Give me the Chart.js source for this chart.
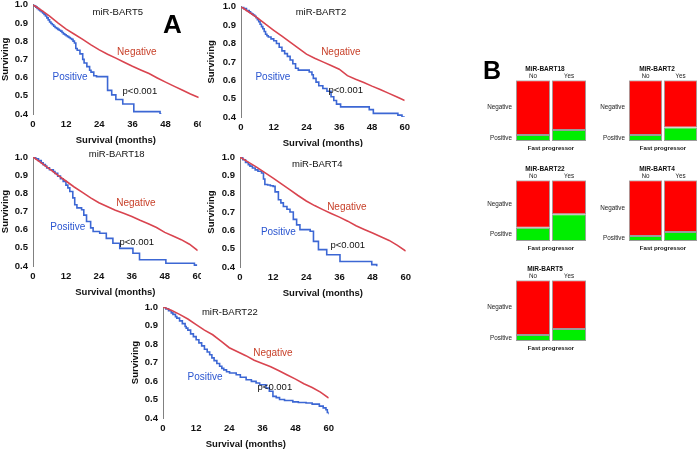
<!DOCTYPE html>
<html><head><meta charset="utf-8">
<script src="https://cdn.jsdelivr.net/npm/chart.js@4.4.1/dist/chart.umd.min.js"></script>
<style>
html,body{margin:0;padding:0;background:#fff;width:699px;height:454px;overflow:hidden;position:relative}
canvas{position:absolute;display:block}
.letter{position:absolute;font-family:'Liberation Sans',Arial,sans-serif;font-weight:bold;line-height:1;color:#000}
</style></head><body>
<canvas id="km1" width="210" height="151" style="left:0px;top:-5px"></canvas>
<canvas id="km2" width="215" height="152" style="left:201px;top:-3px"></canvas>
<canvas id="km3" width="209" height="151" style="left:0px;top:147px"></canvas>
<canvas id="km4" width="216" height="152" style="left:201px;top:147px"></canvas>
<canvas id="km5" width="210" height="153" style="left:130px;top:297px"></canvas>
<canvas id="m1" width="122" height="90" style="left:484px;top:64px"></canvas>
<canvas id="m2" width="120" height="90" style="left:597px;top:64px"></canvas>
<canvas id="m3" width="122" height="90" style="left:484px;top:164px"></canvas>
<canvas id="m4" width="120" height="90" style="left:597px;top:164px"></canvas>
<canvas id="m5" width="122" height="90" style="left:484px;top:264px"></canvas>
<div class="letter" style="left:163px;top:11px;font-size:26px">A</div>
<div class="letter" style="left:483px;top:58px;font-size:25px">B</div>
<script>
// ---------- Kaplan-Meier data ----------
const months = [0,3,6,9,12,15,18,21,24,27,30,33,36,39,42,45,48,51,54,57,60];
const xTicks = [0,12,24,36,48,60];

const bart5Neg  = [1,0.97,0.937,0.90,0.866,0.838,0.81,0.78,0.752,0.728,0.707,0.684,0.662,0.642,0.622,0.598,0.575,0.553,0.532,0.51,0.49];
const bart2Neg  = [1,0.97,0.94,0.905,0.872,0.84,0.808,0.775,0.742,0.72,0.70,0.68,0.66,0.625,0.605,0.588,0.568,0.55,0.53,0.51,0.49];
const bart18Neg = [1,0.968,0.935,0.90,0.868,0.835,0.805,0.775,0.748,0.727,0.707,0.69,0.673,0.652,0.633,0.612,0.585,0.565,0.545,0.52,0.485];
const bart4Neg  = [1,0.972,0.945,0.915,0.885,0.853,0.822,0.79,0.76,0.735,0.713,0.692,0.672,0.65,0.625,0.605,0.585,0.565,0.545,0.518,0.487];
const bart22Neg = [1,0.982,0.96,0.935,0.905,0.875,0.85,0.815,0.78,0.758,0.737,0.712,0.695,0.677,0.655,0.632,0.61,0.585,0.565,0.54,0.508];

const bart5PosT = [0,0.5,1,1.5,2,2.5,3,3.5,4,4.5,5,5.5,6,6.5,7,7.5,8,8.5,9,9.5,10,10.5,11,11.5,12,12.5,13,13.5,14,14.5,15,15.5,16,17,18,18.5,19.5,20.5,21,22,23,27,28.5,30,32.5,36.5,46,46.5];
const bart5PosS = [1,0.993,0.987,0.98,0.973,0.967,0.962,0.955,0.947,0.938,0.928,0.917,0.905,0.897,0.89,0.882,0.875,0.87,0.865,0.86,0.855,0.848,0.84,0.835,0.83,0.825,0.82,0.815,0.81,0.80,0.79,0.76,0.75,0.73,0.70,0.68,0.66,0.64,0.63,0.61,0.605,0.53,0.505,0.48,0.455,0.413,0.40,0.40];
const bart2PosT = [0,1,2,3,3.5,4,4.5,5,5.5,6,6.5,7,7.5,8,8.5,9,9.5,10,11,12,13,14,15,16,17,18,19,20,21,25,26,26.5,27.5,28.5,30,31.5,33,34,35,36.5,42,47,48.5,57.5,59,60];
const bart2PosS = [1,0.99,0.98,0.972,0.965,0.96,0.955,0.948,0.94,0.93,0.918,0.905,0.892,0.88,0.865,0.85,0.842,0.835,0.825,0.815,0.80,0.78,0.76,0.745,0.73,0.71,0.69,0.665,0.655,0.645,0.63,0.61,0.59,0.57,0.555,0.54,0.51,0.49,0.47,0.455,0.455,0.44,0.42,0.41,0.40,0.395];
const bart18PosT = [0,1,2,3,3.7,4.5,5,6,7.4,8,9,10,11,12,12.7,13.4,14.5,15.2,16,17.7,18.5,19.5,21,21.9,24.3,26.7,29.1,31.6,36.4,38.8,48.4,58.8,59.5];
const bart18PosS = [1,0.99,0.98,0.968,0.958,0.95,0.94,0.93,0.92,0.91,0.895,0.88,0.866,0.845,0.83,0.81,0.775,0.737,0.72,0.71,0.68,0.645,0.61,0.59,0.58,0.552,0.525,0.497,0.47,0.434,0.415,0.405,0.39];
const bart4PosT = [0,1,2,3,3.6,4.5,5.5,6.5,7.8,8.5,9,10,11,12,12.7,13.9,14.8,15.7,17,18.1,19.3,20.5,21.7,25.4,26.6,28.4,31.4,36.2,47.7,49.5];
const bart4PosS = [1,0.985,0.97,0.958,0.95,0.94,0.93,0.922,0.913,0.88,0.85,0.847,0.843,0.84,0.81,0.767,0.75,0.73,0.715,0.70,0.66,0.63,0.604,0.595,0.54,0.495,0.467,0.43,0.413,0.404];
const bart22PosT = [0,1,2,3,3.6,4.5,5,6,7,8,8.4,9,10,11,12,13,14,15,16,16.9,17.7,18.5,19.5,20.5,21.3,22,23,24.1,26.5,28,30.1,32,33.7,35,37.3,38.5,39.8,41,42.2,44,47,49,51.8,54,56.6,58,59,59.5,60];
const bart22PosS = [1,0.99,0.98,0.968,0.96,0.948,0.94,0.925,0.91,0.895,0.886,0.875,0.855,0.84,0.823,0.806,0.79,0.772,0.757,0.742,0.725,0.71,0.695,0.68,0.668,0.66,0.65,0.643,0.634,0.62,0.607,0.598,0.589,0.58,0.562,0.545,0.517,0.51,0.50,0.495,0.487,0.484,0.481,0.475,0.464,0.455,0.445,0.43,0.42];

// ---------- Mosaic data (percent of each column) ----------
const mosaicCols = ['No','Yes'];
const bart18Pos = [10,18],  bart18Negm = [90,82];
const bart2Pos  = [10,22.5], bart2Negm = [90,77.5];
const bart22Pos = [22,44],  bart22Negm = [78,56];
const bart4Pos  = [8.5,15], bart4Negm  = [91.5,85];
const bart5Pos  = [10,20],  bart5Negm  = [90,80];

// ---------- styles ----------
const FAM = "'Liberation Sans', Arial, sans-serif";
const RED = '#d9444f', BLUE = '#3c67d4';
const NEG_TXT = '#c8412a', POS_TXT = '#2a55d0';

const whiteBg = {id:'whiteBg', beforeDraw(chart){const c=chart.ctx;c.save();c.fillStyle='#fff';c.fillRect(0,0,chart.width,chart.height);c.restore();}};
function textPlugin(items){
  return {id:'kmText', afterDatasetsDraw(chart){
    const {ctx, scales:{x,y}} = chart;
    ctx.save();
    ctx.textAlign='center'; ctx.textBaseline='middle';
    items.forEach(it=>{ctx.font=it.font; ctx.fillStyle=it.color; ctx.fillText(it.text, x.getPixelForValue(it.x), y.getPixelForValue(it.y));});
    ctx.restore();
  }};
}
function labels(name, t, n, p, pv){
  return [
    {text:name, x:t[0], y:t[1], color:'#111', font:"9.5px "+FAM},
    {text:'Negative', x:n[0], y:n[1], color:NEG_TXT, font:"10px "+FAM},
    {text:'Positive', x:p[0], y:p[1], color:POS_TXT, font:"10px "+FAM},
    {text:'p<0.001', x:pv[0], y:pv[1], color:'#111', font:"9.5px "+FAM}
  ];
}
function km(id, negS, posT, posS, texts, geo){
  const tickFont = {family:FAM, size:9.5, weight:'bold', lineHeight:1};
  const axisFont = {family:FAM, size:9.5, weight:'bold', lineHeight:1.2};
  const plugins = [textPlugin(texts)];
  if (geo.bg) plugins.unshift(whiteBg);
  new Chart(document.getElementById(id), {
    type:'line',
    data:{datasets:[
      {label:'Negative', data:months.map((t,i)=>({x:t,y:negS[i]})), borderColor:RED, borderWidth:1.6, pointRadius:0, tension:0, fill:false},
      {label:'Positive', data:posT.map((t,i)=>({x:t,y:posS[i]})), borderColor:BLUE, borderWidth:1.6, pointRadius:0, stepped:'before', fill:false}
    ]},
    options:{
      responsive:false, animation:false, events:[],
      layout:{padding:{top:geo.padTop, right:0, left:0, bottom:0}},
      plugins:{legend:{display:false}, tooltip:{enabled:false}},
      scales:{
        x:{type:'linear', min:0, max:60,
           afterBuildTicks(s){s.ticks = xTicks.map(v=>({value:v}));},
           ticks:{font:tickFont, color:'#111', padding:6, maxRotation:0, autoSkip:false},
           grid:{display:false, drawTicks:false}, border:{display:false},
           title:{display:true, text:'Survival (months)', font:axisFont, color:'#111', padding:{top:0,bottom:0}},
           afterFit(s){s.height=32;}},
        y:{type:'linear', min:0.4, max:1.0,
           ticks:{stepSize:0.1, font:tickFont, color:'#111', padding:5, callback:v=>Number(v).toFixed(1)},
           grid:{display:false, drawTicks:false}, border:{display:true, color:'#808080', width:1},
           title:{display:true, text:'Surviving', font:axisFont, color:'#111', padding:{top:geo.yTitlePad, bottom:0}},
           afterFit(s){s.width=geo.yWidth;}}
      }
    },
    plugins
  });
}

km('km1', bart5Neg, bart5PosT, bart5PosS, labels('miR-BART5',[30.7,0.956],[37.6,0.741],[13.4,0.604],[38.7,0.527]), {padTop:0, yWidth:33, yTitlePad:0});
km('km2', bart2Neg, bart2PosT, bart2PosS, labels('miR-BART2',[29.3,0.967],[36.6,0.755],[11.7,0.618],[38.4,0.547]), {padTop:0, yWidth:40, yTitlePad:5, bg:true});
km('km3', bart18Neg, bart18PosT, bart18PosS, labels('miR-BART18',[30.5,1.016],[37.5,0.747],[12.7,0.615],[37.8,0.532]), {padTop:10, yWidth:33, yTitlePad:0});
km('km4', bart4Neg, bart4PosT, bart4PosS, labels('miR-BART4',[28,0.962],[38.7,0.727],[13.9,0.591],[39,0.52]), {padTop:10, yWidth:39, yTitlePad:5, bg:true});
km('km5', bart22Neg, bart22PosT, bart22PosS, labels('miR-BART22',[24.2,0.973],[39.8,0.751],[15.2,0.622],[40.5,0.568]), {padTop:10, yWidth:33, yTitlePad:0});

function mosaic(id, name, pos, neg){
  const f = {family:FAM, size:6.3, lineHeight:1.2};
  const fb = {family:FAM, size:6.1, weight:'bold', lineHeight:1.2};
  new Chart(document.getElementById(id), {
    type:'bar',
    data:{labels:mosaicCols, datasets:[
      {label:'Positive', data:pos, backgroundColor:'#00ee00', borderColor:'#9a9a9a', borderWidth:1, borderSkipped:false, barPercentage:1, categoryPercentage:0.95},
      {label:'Negative', data:neg, backgroundColor:'#ff0000', borderColor:'#9a9a9a', borderWidth:1, borderSkipped:false, barPercentage:1, categoryPercentage:0.95}
    ]},
    options:{
      responsive:false, animation:false, events:[],
      layout:{padding:{top:1.8, bottom:1.8, left:0, right:0}},
      plugins:{legend:{display:false}, tooltip:{enabled:false},
        title:{display:true, text:name, font:{...fb, size:6.5}, color:'#111', padding:{top:0,bottom:0}}},
      scales:{
        x:{position:'top', stacked:true, grid:{display:false, drawTicks:false}, border:{display:false},
           ticks:{font:f, color:'#222', padding:0, maxRotation:0}, afterFit(s){s.height=6.6;}},
        x2:{position:'bottom', type:'category', labels:mosaicCols, grid:{display:false, drawTicks:false}, border:{display:false},
           ticks:{display:false},
           title:{display:true, text:'Fast progressor', font:fb, color:'#111', padding:{top:3.8,bottom:0}}},
        y:{stacked:true, min:0, max:100, grid:{display:false, drawTicks:false}, border:{display:false},
           afterBuildTicks(s){s.ticks=[{value:pos[0]/2},{value:pos[0]+neg[0]/2}];},
           ticks:{font:f, color:'#222', padding:3, autoSkip:false, callback:(v,i)=> i===0?'Positive':'Negative'},
           afterFit(s){s.width=31;}},
        ySpace:{position:'right', min:0, max:100, grid:{display:false, drawTicks:false}, border:{display:false},
           ticks:{display:false}, afterFit(s){s.width=19;}}
      }
    }
  });
}
mosaic('m1','MiR-BART18', bart18Pos, bart18Negm);
mosaic('m2','MiR-BART2', bart2Pos, bart2Negm);
mosaic('m3','MiR-BART22', bart22Pos, bart22Negm);
mosaic('m4','MiR-BART4', bart4Pos, bart4Negm);
mosaic('m5','MiR-BART5', bart5Pos, bart5Negm);
</script>
</body></html>
